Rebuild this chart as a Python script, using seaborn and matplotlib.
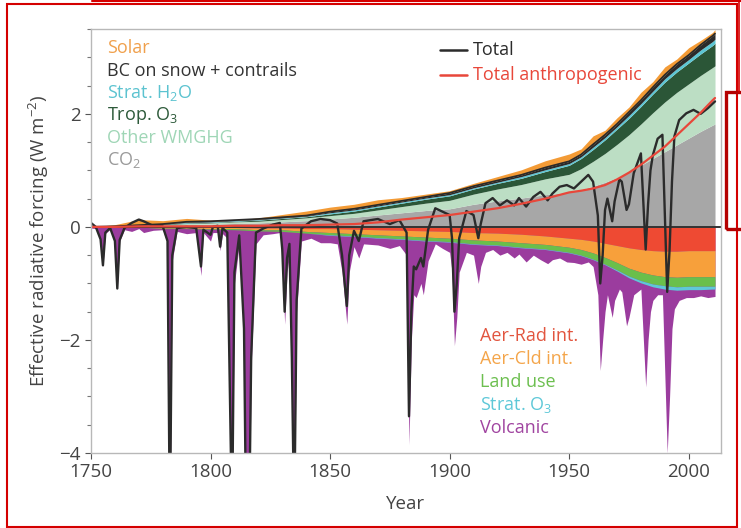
import numpy as np
import pandas as pd
import matplotlib
matplotlib.use("Agg")
import matplotlib.pyplot as plt
from matplotlib.patches import Rectangle
from matplotlib.lines import Line2D
from matplotlib.ticker import MultipleLocator
import seaborn as sns

# yearly grid for the slowly varying forcings (W m-2)
years = [1750, 1760, 1770, 1780, 1790, 1800, 1810, 1820, 1830, 1840, 1850, 1860,
         1870, 1880, 1890, 1900, 1910, 1920, 1930, 1940, 1950, 1955, 1960, 1965,
         1970, 1975, 1980, 1985, 1990, 1995, 2000, 2005, 2010, 2011]

# positive forcings, stacked from the bottom up
co2 = [0.00, 0.01, 0.02, 0.03, 0.04, 0.05, 0.06, 0.07, 0.09, 0.11, 0.14, 0.17,
       0.21, 0.25, 0.29, 0.32, 0.40, 0.46, 0.51, 0.57, 0.61, 0.66, 0.72, 0.79,
       0.87, 0.97, 1.09, 1.21, 1.33, 1.45, 1.57, 1.69, 1.80, 1.82]
other_wmghg = [0.00, 0.00, 0.01, 0.01, 0.02, 0.02, 0.03, 0.03, 0.04, 0.05, 0.06, 0.07,
               0.09, 0.11, 0.13, 0.15, 0.18, 0.21, 0.24, 0.28, 0.32, 0.37, 0.44, 0.51,
               0.59, 0.66, 0.73, 0.81, 0.88, 0.93, 0.96, 0.99, 1.02, 1.03]
trop_o3 = [0.00, 0.00, 0.00, 0.01, 0.01, 0.01, 0.01, 0.02, 0.02, 0.02, 0.03, 0.04,
           0.05, 0.06, 0.07, 0.08, 0.09, 0.10, 0.11, 0.13, 0.16, 0.18, 0.21, 0.24,
           0.27, 0.29, 0.31, 0.33, 0.35, 0.36, 0.37, 0.38, 0.39, 0.40]
strat_h2o = [0.00, 0.00, 0.00, 0.00, 0.01, 0.01, 0.01, 0.01, 0.01, 0.01, 0.02, 0.02,
             0.02, 0.02, 0.02, 0.02, 0.02, 0.02, 0.03, 0.03, 0.03, 0.03, 0.04, 0.04,
             0.04, 0.05, 0.05, 0.05, 0.06, 0.06, 0.06, 0.07, 0.07, 0.07]
bc_contrails = [0.00, 0.00, 0.00, 0.00, 0.01, 0.01, 0.01, 0.01, 0.01, 0.01, 0.02, 0.02,
                0.02, 0.02, 0.02, 0.03, 0.03, 0.03, 0.03, 0.04, 0.04, 0.04, 0.05, 0.05,
                0.05, 0.06, 0.06, 0.07, 0.07, 0.08, 0.08, 0.09, 0.10, 0.10]
solar = [0.00, 0.03, 0.10, 0.06, 0.06, 0.02, 0.00, 0.02, 0.05, 0.08, 0.08, 0.08,
         0.09, 0.06, 0.05, 0.04, 0.05, 0.07, 0.09, 0.12, 0.13, 0.10, 0.15, 0.08,
         0.11, 0.09, 0.14, 0.10, 0.14, 0.09, 0.13, 0.08, 0.06, 0.07]

# negative anthropogenic forcings, stacked from zero downwards
aer_rad = [0.00, 0.00, 0.00, -0.01, -0.01, -0.01, -0.01, -0.02, -0.02, -0.03, -0.03, -0.04,
           -0.05, -0.06, -0.07, -0.08, -0.10, -0.11, -0.13, -0.16, -0.20, -0.22, -0.25, -0.29,
           -0.33, -0.37, -0.40, -0.42, -0.43, -0.43, -0.42, -0.42, -0.42, -0.42]
aer_cld = [0.00, 0.00, 0.00, -0.01, -0.01, -0.02, -0.02, -0.03, -0.03, -0.05, -0.07, -0.08,
           -0.09, -0.10, -0.11, -0.12, -0.13, -0.14, -0.15, -0.15, -0.16, -0.18, -0.21, -0.25,
           -0.30, -0.36, -0.40, -0.43, -0.45, -0.46, -0.46, -0.46, -0.46, -0.46]
land_use = [0.00, 0.00, 0.00, -0.01, -0.01, -0.01, -0.02, -0.02, -0.03, -0.03, -0.04, -0.04,
            -0.05, -0.05, -0.06, -0.06, -0.07, -0.07, -0.08, -0.08, -0.09, -0.10, -0.11, -0.12,
            -0.13, -0.14, -0.15, -0.16, -0.16, -0.17, -0.17, -0.17, -0.17, -0.17]
strat_o3 = [0.00, 0.00, 0.00, 0.00, 0.00, 0.00, 0.00, 0.00, 0.00, 0.00, -0.01, -0.01,
            -0.01, -0.01, -0.01, -0.01, -0.01, -0.01, -0.01, -0.01, -0.01, -0.01, -0.01, -0.01,
            -0.02, -0.03, -0.04, -0.05, -0.06, -0.06, -0.06, -0.06, -0.05, -0.05]

# total anthropogenic (red line)
total_anthro = [0.00, 0.00, 0.01, 0.01, 0.01, 0.01, 0.02, 0.02, 0.03, 0.03, 0.04, 0.05,
                0.08, 0.13, 0.17, 0.21, 0.27, 0.33, 0.41, 0.50, 0.61, 0.64, 0.68, 0.74,
                0.84, 0.96, 1.10, 1.26, 1.42, 1.62, 1.82, 2.02, 2.24, 2.28]

# eruption-resolved series: lower edge of the stack incl. volcanic, and the total
event_years = [1750, 1752, 1754, 1755, 1756, 1758, 1760, 1761, 1762, 1764, 1767, 1770,
               1772, 1776, 1780, 1782, 1783, 1784, 1786, 1790, 1794, 1796, 1797, 1800,
               1801, 1803, 1804, 1805, 1807, 1809, 1810, 1812, 1814, 1815, 1816, 1817,
               1819, 1822, 1826, 1829, 1830, 1831, 1832, 1833, 1834, 1835, 1836, 1838,
               1842, 1846, 1850, 1853, 1855, 1857, 1858, 1860, 1862, 1864, 1870, 1875,
               1879, 1882, 1883, 1884, 1885, 1886, 1888, 1889, 1891, 1894, 1897, 1900,
               1901, 1902, 1903, 1904, 1907, 1910, 1912, 1913, 1915, 1918, 1921, 1924,
               1927, 1929, 1932, 1935, 1938, 1941, 1943, 1946, 1949, 1952, 1955, 1958,
               1960, 1962, 1963, 1964, 1965, 1966, 1968, 1969, 1971, 1972, 1974, 1975,
               1977, 1980, 1982, 1983, 1984, 1985, 1987, 1989, 1991, 1992, 1993, 1994,
               1996, 1999, 2002, 2005, 2008, 2011]
neg_with_volcanic = [-0.02, -0.03, -0.25, -0.70, -0.12, -0.04, -0.25, -1.10, -0.25, -0.05, -0.08, -0.03,
                     -0.10, -0.06, -0.05, -0.30, -5.50, -0.60, -0.08, -0.12, -0.10, -0.86, -0.10, -0.25,
                     -0.10, -0.10, -0.42, -0.12, -0.20, -5.50, -1.00, -0.30, -2.00, -6.00, -6.00, -2.50,
                     -0.30, -0.14, -0.12, -0.10, -0.60, -1.72, -0.80, -0.50, -2.50, -5.50, -1.50, -0.25,
                     -0.20, -0.28, -0.28, -0.30, -0.80, -1.72, -0.80, -0.35, -0.55, -0.30, -0.32, -0.38,
                     -0.33, -0.50, -3.85, -2.00, -1.20, -1.25, -1.00, -1.20, -0.60, -0.30, -0.38, -0.45,
                     -0.80, -2.10, -1.60, -0.80, -0.45, -0.50, -1.00, -0.70, -0.45, -0.40, -0.50, -0.45,
                     -0.55, -0.48, -0.62, -0.50, -0.58, -0.65, -0.58, -0.55, -0.62, -0.63, -0.66, -0.62,
                     -0.70, -1.20, -2.54, -2.00, -1.50, -1.20, -1.60, -1.30, -1.10, -1.15, -1.75, -1.60,
                     -1.20, -1.10, -2.83, -2.00, -1.50, -1.30, -1.20, -1.20, -4.00, -3.00, -1.80, -1.45,
                     -1.30, -1.25, -1.25, -1.22, -1.25, -1.23]
total = [0.07, 0.00, -0.22, -0.68, -0.10, -0.02, -0.25, -1.09, -0.23, -0.02, 0.07, 0.13,
         0.10, 0.02, 0.01, -0.25, -5.40, -0.50, -0.02, 0.00, -0.02, -0.70, -0.05, -0.14,
         0.00, 0.02, -0.35, -0.02, -0.10, -5.30, -0.80, -0.15, -1.80, -5.80, -5.80, -2.30,
         -0.10, -0.03, 0.04, 0.07, -0.40, -1.50, -0.55, -0.30, -2.30, -5.30, -1.30, -0.03,
         0.10, 0.14, 0.12, 0.06, -0.50, -1.40, -0.50, -0.07, -0.25, 0.10, 0.14, 0.05,
         0.12, -0.10, -3.35, -1.50, -0.70, -0.75, -0.55, -0.70, -0.05, 0.33, 0.27, 0.21,
         -0.20, -1.50, -1.00, -0.20, 0.28, 0.21, -0.20, 0.05, 0.42, 0.51, 0.38, 0.47,
         0.38, 0.51, 0.36, 0.53, 0.62, 0.47, 0.59, 0.71, 0.74, 0.68, 0.80, 0.92,
         0.80, 0.20, -1.00, -0.50, 0.30, 0.50, 0.10, 0.45, 0.84, 0.80, 0.30, 0.40,
         0.95, 1.30, -0.40, 0.40, 1.00, 1.27, 1.56, 1.63, -1.15, -0.40, 0.80, 1.60,
         1.89, 2.01, 2.07, 2.00, 2.10, 2.22]

pos_colors = ["#a7a7a7", "#bcdec4", "#2b5637", "#5cc6d4", "#2a2a2a", "#f39b36"]
neg_names = ["Aer-Rad int.", "Aer-Cld int.", "Land use", "Strat. O$_3$", "Volcanic"]
neg_colors = ["#ee4a33", "#f7a03b", "#6abf4b", "#5ec8d8", "#9b3c9e"]

sns.set_style("ticks")
plt.rcParams["font.family"] = ["Open Sans", "DejaVu Sans"]
plt.rcParams["mathtext.fontset"] = "custom"
plt.rcParams["mathtext.rm"] = "Open Sans"
plt.rcParams["mathtext.it"] = "Open Sans:italic"
plt.rcParams["mathtext.default"] = "regular"

fig = plt.figure(figsize=(7.41, 5.28), dpi=100)
ax = fig.add_axes([0.1228, 0.142, 0.8502, 0.803])

yrs = np.array(years)

# volcanic sits at the bottom; the anthropogenic negative layers cover its top part
ax.fill_between(event_years, 0, neg_with_volcanic, color=neg_colors[4], lw=0, zorder=1)

neg_stack = np.cumsum([aer_rad, aer_cld, land_use, strat_o3], axis=0)
prev = np.zeros(len(yrs))
for i, layer in enumerate(neg_stack):
    ax.fill_between(yrs, prev, layer, color=neg_colors[i], lw=0, zorder=2)
    prev = layer

pos_stack = np.cumsum([co2, other_wmghg, trop_o3, strat_h2o, bc_contrails, solar], axis=0)
prev = np.zeros(len(yrs))
for i, layer in enumerate(pos_stack):
    ax.fill_between(yrs, prev, layer, color=pos_colors[i], lw=0, zorder=2)
    prev = layer
# BC layer is thin, give it a dark edge so it reads as a line
ax.plot(yrs, pos_stack[4], color=pos_colors[4], lw=1.3, zorder=3)

ax.axhline(0, color="#333333", lw=1.4, zorder=4)

df_total = pd.DataFrame({"year": event_years, "total": total})
df_anthro = pd.DataFrame({"year": years, "anthro": total_anthro})
sns.lineplot(data=df_total, x="year", y="total", ax=ax, color="#2b2b2b", lw=1.7,
             zorder=5, legend=False)
sns.lineplot(data=df_anthro, x="year", y="anthro", ax=ax, color="#e8473a", lw=1.6,
             zorder=6, legend=False)

ax.set_xlim(1750, 2013.5)
ax.set_ylim(-4, 3.5)
ax.set_xticks([1750, 1800, 1850, 1900, 1950, 2000])
ax.set_yticks([-4, -2, 0, 2])
ax.yaxis.set_minor_locator(MultipleLocator(0.5))
ax.tick_params(axis="both", which="major", labelsize=13.5, colors="#555555",
               labelcolor="#444444", length=4, width=0.8, direction="out")
ax.tick_params(axis="y", which="minor", length=3, width=0.8, color="#777777")
for s in ax.spines.values():
    s.set_color("#b8b8b8")
    s.set_linewidth(1.0)
    s.set_zorder(7)

ax.set_xlabel("Year", fontsize=13.5, color="#444444", labelpad=10)
ax.set_ylabel("Effective radiative forcing (W m$^{-2}$)", fontsize=13.5,
              color="#444444", labelpad=6)

# legend texts, top left (top of the stack first)
top_left = ["Solar", "BC on snow + contrails", "Strat. H$_2$O", "Trop. O$_3$",
            "Other WMGHG", "CO$_2$"]
top_left_colors = ["#f0a04c", "#333333", "#5cc3d0", "#2d5a3a", "#9fd6b6", "#9a9a9a"]
for i, (t, c) in enumerate(zip(top_left, top_left_colors)):
    ax.text(0.026, 0.955 - i * 0.053, t, transform=ax.transAxes, fontsize=13,
            color=c, va="center", ha="left", zorder=8)

# line legend, top right
for i, (t, c) in enumerate([("Total", "#2b2b2b"), ("Total anthropogenic", "#e8473a")]):
    yy = 0.950 - i * 0.058
    ax.add_line(Line2D([0.554, 0.597], [yy, yy], transform=ax.transAxes,
                       color=c, lw=1.8, zorder=8))
    ax.text(0.606, yy, t, transform=ax.transAxes, fontsize=13, color=c,
            va="center", ha="left", zorder=8)

# legend texts for the negative forcings
bottom_colors = ["#e2553f", "#f4a54a", "#6cbf4f", "#5ec8d8", "#a044a0"]
for i, (t, c) in enumerate(zip(neg_names, bottom_colors)):
    ax.text(0.617, 0.276 - i * 0.0545, t, transform=ax.transAxes, fontsize=13,
            color=c, va="center", ha="left", zorder=8)

# red frame of the screenshot
W, H = 741.0, 528.0
fig.patches.append(Rectangle((7 / W, 1 / H), 730 / W, 523 / H, fill=False,
                             edgecolor="#d40000", lw=1.5, transform=fig.transFigure))
fig.lines.append(Line2D([92 / W, 1.0], [1 - 1 / H, 1 - 1 / H], color="#d40000",
                        lw=1.5, transform=fig.transFigure))
fig.lines.append(Line2D([739 / W, 739 / W], [1 - 1 / H, 1 - 92 / H], color="#d40000",
                        lw=1.2, transform=fig.transFigure))
fig.patches.append(Rectangle((726 / W, 1 - 229 / H), 30 / W, 137 / H, fill=False,
                             edgecolor="#b40000", lw=2.4, transform=fig.transFigure))

fig.savefig("out.png", dpi=100)
